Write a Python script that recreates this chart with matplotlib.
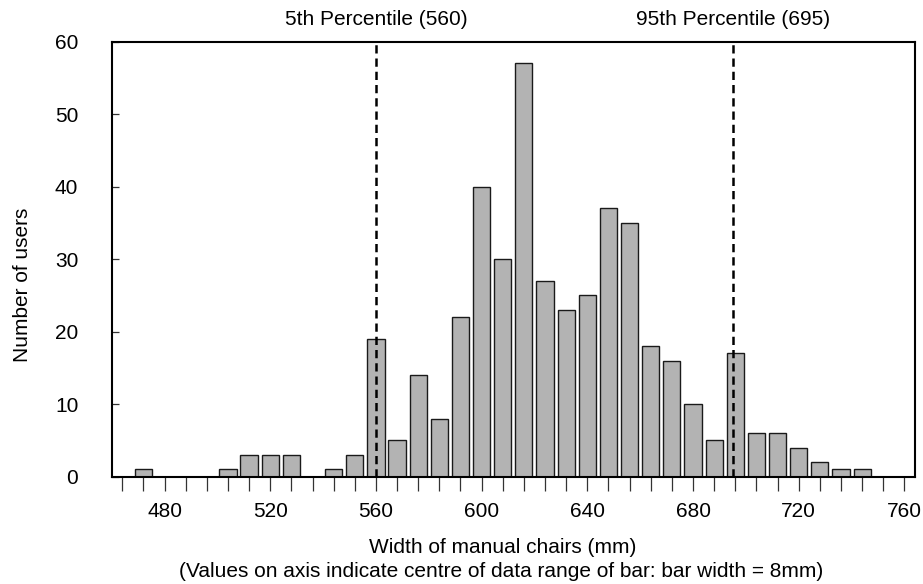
import matplotlib
matplotlib.use("Agg")
from matplotlib import pyplot as plt
import numpy as np

plt.rcParams["font.family"] = ["Liberation Sans", "DejaVu Sans"]

# bin centres (mm), 8mm wide bins
bin_centres = list(range(464, 761, 8))
# number of users per bin
counts = [0, 1, 0, 0, 0, 1, 3, 3, 3, 0, 1, 3,
          19, 5, 14, 8, 22, 40, 30, 57, 27, 23, 25, 37, 35, 18, 16, 10, 5, 17,
          6, 6, 4, 2, 1, 1, 0, 0]
x_labels = [480, 520, 560, 600, 640, 680, 720, 760]
y_ticks = [0, 10, 20, 30, 40, 50, 60]

percentiles = [560, 695]
percentile_names = ["5th Percentile (560)", "95th Percentile (695)"]

FS = 15

fig = plt.figure(figsize=(9.23, 5.84), dpi=100)
ax = fig.add_axes([0.121, 0.184, 0.8703, 0.7446])

ax.bar(bin_centres, counts, width=6.5, color="#b3b3b3",
       edgecolor="#1a1a1a", linewidth=1.0, zorder=2)

for xp, name in zip(percentiles, percentile_names):
    ax.axvline(xp, color="black", linewidth=1.8, linestyle=(0, (3.3, 2.0)), zorder=3)
    ax.annotate(name, xy=(xp, 1), xycoords=("data", "axes fraction"),
                xytext=(0, 12), textcoords="offset points",
                ha="center", va="baseline", fontsize=FS)

ax.set_xlim(460, 764)
ax.set_ylim(0, 60)

# tick on every bin, label every 40mm
ax.set_xticks(bin_centres)
ax.set_xticklabels([str(c) if c in x_labels else "" for c in bin_centres])
ax.tick_params(axis="x", direction="out", length=10, width=0.9, color="#333333",
               pad=8, labelsize=FS)
ax.set_yticks(y_ticks)
ax.tick_params(axis="y", direction="in", length=5, width=0.9, color="#333333",
               pad=24, labelsize=FS)

for sp in ax.spines.values():
    sp.set_linewidth(1.5)
    sp.set_zorder(4)

fig.text(23 / 923, 1 - 285 / 584, "Number of users", rotation=90,
         ha="center", va="center", fontsize=FS)
fig.text(503 / 923, 1 - 553 / 584, "Width of manual chairs (mm)",
         ha="center", va="baseline", fontsize=FS)
fig.text(501 / 923, 1 - 577 / 584,
         "(Values on axis indicate centre of data range of bar: bar width = 8mm)",
         ha="center", va="baseline", fontsize=FS)

fig.savefig("out.png", dpi=100)
